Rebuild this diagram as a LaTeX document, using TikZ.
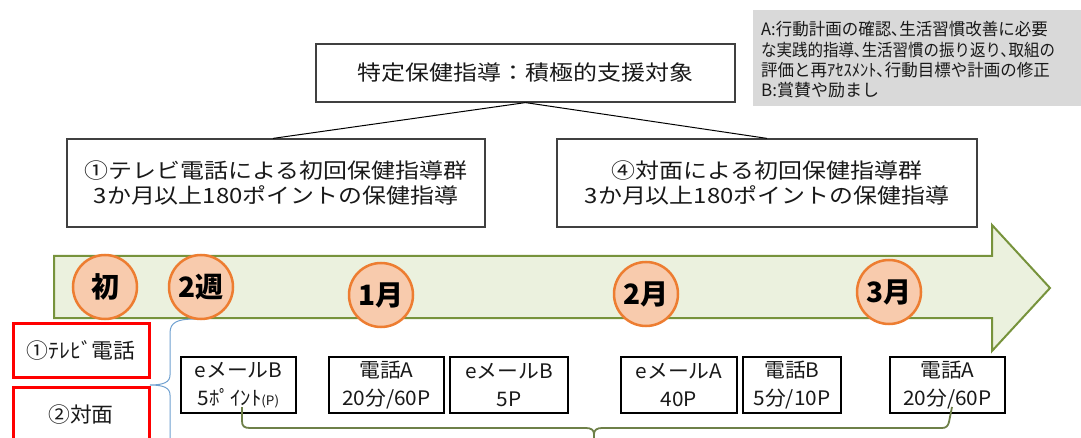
\documentclass[tikz,border=0pt]{standalone}
\usepackage{fontspec}
\newfontfamily\jpw[FakeStretch=1.14]{Noto Sans CJK JP}
\newfontfamily\jpm[FakeStretch=1.04]{Noto Sans CJK JP}
\newfontfamily\jpg[FakeStretch=1.0]{Noto Sans CJK JP}
\newfontfamily\jpb{Noto Sans CJK JP}
\definecolor{bandfill}{HTML}{EBF1DE}
\definecolor{banddraw}{HTML}{77933C}
\definecolor{circfill}{HTML}{F8CBAD}
\definecolor{circdraw}{HTML}{ED7D31}
\definecolor{graybox}{HTML}{D9D9D9}
\definecolor{bracegreen}{HTML}{6E8048}
\definecolor{bracketblue}{HTML}{6FA0D0}
\begin{document}
\begin{tikzpicture}[x=1pt,y=-1pt,
  topbox/.style={draw=black!75, line width=1.2pt, fill=white, inner sep=0pt, align=center,
    font=\jpw\fontsize{21}{24.5}\selectfont, text=black!90},
  mcirc/.style={circle, draw=circdraw, fill=circfill, line width=2.5pt, minimum size=64pt,
    inner sep=0pt, font=\jpb\bfseries\fontsize{28}{28}\selectfont},
  redbox/.style={draw=red, line width=3pt, inner sep=0pt, minimum width=136pt,
    font=\jpm\fontsize{21}{21}\selectfont, text=black!90},
  evbox/.style={draw=black, line width=2.5pt, fill=white, inner sep=0pt, minimum height=56pt,
    align=center, font=\jpm\fontsize{20}{28}\selectfont, text=black!90},
  link/.style={draw=black, line width=1pt}
]
\useasboundingbox (0,0) rectangle (1081,438);
\clip (0,0) rectangle (1081,438);

% gray legend box
\fill[graybox] (753,10) rectangle (1081,106);
\node[anchor=west, inner sep=0pt, align=left, text=black!90,
  font=\jpg\fontsize{17}{20.3}\selectfont] (legend) at (761,60)
  {\scalebox{0.97}[1]{A:行動計画の確認､生活習慣改善に必要}\\
   \scalebox{0.91}[1]{な実践的指導､生活習慣の振り返り､取組の}\\
   \scalebox{0.97}[1]{評価と再ｱｾｽﾒﾝﾄ､行動目標や計画の修正}\\
   B:賞賛や励まし};

% top structure
\node[topbox, minimum width=419pt, minimum height=58pt] (top) at (525.5,73)
  {特定保健指導：積極的支援対象};
\node[topbox, minimum width=418pt, minimum height=88pt] (grp1) at (276,183)
  {①テレビ電話による初回保健指導群\\3か月以上180ポイントの保健指導};
\node[topbox, minimum width=420pt, minimum height=88pt] (grp4) at (767,183)
  {④対面による初回保健指導群\\3か月以上180ポイントの保健指導};
\draw[link] (top.south) -- ([xshift=-3pt]grp1.north);
\draw[link] (top.south) -- (grp4.north);

% timeline arrow
\draw[banddraw, fill=bandfill, line width=2pt, line join=miter]
  (54,256) -- (992,256) -- (992,225) -- (1050,288) -- (992,351) -- (992,318) -- (54,318) -- cycle;

% blue bracket
\coordinate (btop) at (195,319);
\coordinate (btip) at (150,385);
\coordinate (bbot) at (170,445);
\draw[bracketblue, line width=1pt]
  (btop) .. controls (178,319) and (170,322) .. (170,333) -- (170,375)
  .. controls (170,382) and (164,385) .. (btip)
  .. controls (164,385) and (170,388) .. (170,395) -- (bbot);

% milestones
\node[mcirc] (c0) at (105,287) {初};
\node[mcirc] (c1) at (201,287) {2週};
\node[mcirc] (c2) at (381,295) {1月};
\node[mcirc] (c3) at (646,294) {2月};
\node[mcirc] (c4) at (889,292) {3月};

% red labels
\node[redbox, minimum height=54pt] (tv) at (81,350) {①ﾃﾚﾋﾞ電話};
\node[redbox, minimum height=56pt] (face) at (81,415) {②対面};

% event boxes
\node[evbox, minimum width=115pt] (e1) at (238.5,385)
  {eメールB\\5ﾎﾟｲﾝﾄ{\fontsize{13}{13}\selectfont(P)}};
\node[evbox, minimum width=115pt] (e2) at (386.5,385) {電話A\\20分/60P};
\node[evbox, minimum width=118pt] (e3) at (509,385) {eメールB\\5P};
\node[evbox, minimum width=116pt] (e4) at (679,385) {eメールA\\40P};
\node[evbox, minimum width=98pt] (e5) at (792,385) {電話B\\5分/10P};
\node[evbox, minimum width=115pt] (e6) at (947.5,385) {電話A\\20分/60P};

% green brace
\coordinate (gL) at (242,407);
\coordinate (gT) at (594,445);
\coordinate (gR) at (952,407);
\draw[bracegreen, line width=1.8pt]
  (gL) -- (242,421) .. controls (242,426) and (244,428) .. (250,428) -- (586,428)
  .. controls (591,428) and (594,430) .. (594,434) -- (gT);
\draw[bracegreen, line width=1.8pt]
  (594,434) .. controls (594,430) and (597,428) .. (602,428) -- (942,428)
  .. controls (946,428) and (948,426) .. (949,422) -- (gR);
\end{tikzpicture}
\end{document}
